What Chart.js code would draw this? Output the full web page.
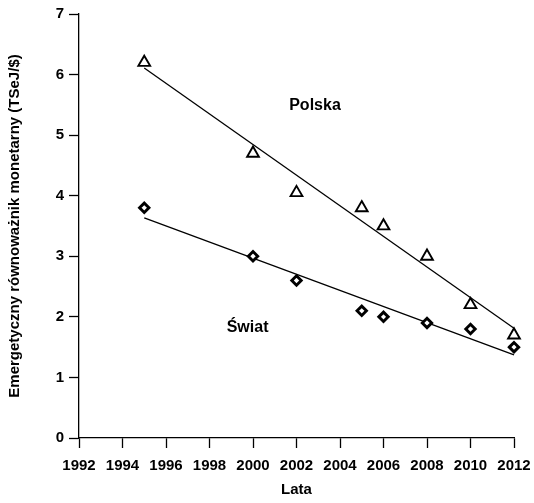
<!DOCTYPE html>
<html>
<head>
<meta charset="utf-8">
<script src="https://cdn.jsdelivr.net/npm/chart.js@4/dist/chart.umd.min.js"></script>
<style>
  html, body { margin: 0; padding: 0; background: #fff; }
  #wrap { width: 534px; height: 503px; }
</style>
</head>
<body>
<div id="wrap"><canvas id="chart"></canvas></div>
<script>
// Years and values
const years = [1995, 2000, 2002, 2005, 2006, 2008, 2010, 2012];
const polskaValues = [6.2, 4.7, 4.05, 3.8, 3.5, 3.0, 2.2, 1.7];
const swiatValues = [3.8, 3.0, 2.6, 2.1, 2.0, 1.9, 1.8, 1.5];
const xTicks = [1992, 1994, 1996, 1998, 2000, 2002, 2004, 2006, 2008, 2010, 2012];
const yTicks = [0, 1, 2, 3, 4, 5, 6, 7];

// Labels written next to the series
const seriesLabels = [
  { text: "Polska", x: 2002.85, y: 5.48 },
  { text: "Świat", x: 1999.75, y: 1.82 },
];

const FONT = "'Liberation Sans', Arial, sans-serif";

// least squares line through the points, returned as two end points
function trendLine(xs, ys) {
  const n = xs.length;
  const mx = xs.reduce((a, b) => a + b, 0) / n;
  const my = ys.reduce((a, b) => a + b, 0) / n;
  let sxy = 0, sxx = 0;
  for (let i = 0; i < n; i++) {
    sxy += (xs[i] - mx) * (ys[i] - my);
    sxx += (xs[i] - mx) * (xs[i] - mx);
  }
  const slope = sxy / sxx;
  const first = xs[0], last = xs[n - 1];
  return [
    { x: first, y: my + slope * (first - mx) },
    { x: last, y: my + slope * (last - mx) },
  ];
}

const toPoints = (vals) => vals.map((v, i) => ({ x: years[i], y: v }));

// draws the series names inside the plot
const labelPlugin = {
  id: "seriesLabels",
  afterDatasetsDraw(chart) {
    const ctx = chart.ctx;
    const xs = chart.scales.x, ys = chart.scales.y;
    ctx.save();
    ctx.font = "bold 16px " + FONT;
    ctx.fillStyle = "#000";
    ctx.textAlign = "center";
    ctx.textBaseline = "middle";
    for (const l of seriesLabels) {
      ctx.fillText(l.text, xs.getPixelForValue(l.x), ys.getPixelForValue(l.y));
    }
    ctx.restore();
  },
};

new Chart(document.getElementById("chart"), {
  type: "scatter",
  data: {
    datasets: [
      {
        label: "Polska",
        data: toPoints(polskaValues),
        pointStyle: "triangle",
        pointRadius: 6.8,
        pointBorderWidth: 1.9,
        borderColor: "#000",
        backgroundColor: "#fff",
        showLine: false,
      },
      {
        label: "Świat",
        data: toPoints(swiatValues),
        pointStyle: "rectRot",
        pointRadius: 4.7,
        pointBorderWidth: 2.9,
        borderColor: "#000",
        backgroundColor: "#fff",
        showLine: false,
      },
      {
        label: "Polska trend",
        data: trendLine(years, polskaValues),
        showLine: true,
        borderColor: "#000",
        borderWidth: 1.3,
        pointRadius: 0,
      },
      {
        label: "Świat trend",
        data: trendLine(years, swiatValues),
        showLine: true,
        borderColor: "#000",
        borderWidth: 1.3,
        pointRadius: 0,
      },
    ],
  },
  options: {
    responsive: true,
    maintainAspectRatio: false,
    animation: false,
    clip: false,
    layout: { padding: { top: 10, right: 20, left: 0, bottom: 0 } },
    plugins: {
      legend: { display: false },
      tooltip: { enabled: false },
    },
    scales: {
      x: {
        type: "linear",
        min: 1992,
        max: 2012,
        afterBuildTicks: (s) => { s.ticks = xTicks.map((v) => ({ value: v })); },
        afterFit: (s) => {
          s.height = 65;
          s.paddingRight = 0;
          s.paddingLeft = 0;
        },
        border: { color: "#000", width: 1.3 },
        grid: { drawOnChartArea: false, tickLength: 10, tickColor: "#000", tickWidth: 1.3 },
        ticks: {
          color: "#000",
          padding: 9,
          maxRotation: 0,
          font: { family: FONT, size: 15, weight: "bold" },
          callback: (v) => String(v),
        },
        title: {
          display: true,
          text: "Lata",
          color: "#000",
          padding: { top: 4, bottom: 4 },
          font: { family: FONT, size: 15, weight: "bold" },
        },
      },
      y: {
        min: 0,
        max: 7,
        afterBuildTicks: (s) => { s.ticks = yTicks.map((v) => ({ value: v })); },
        afterFit: (s) => { s.width = 79; },
        border: { color: "#000", width: 1.3 },
        grid: { drawOnChartArea: false, tickLength: 10, tickColor: "#000", tickWidth: 1.3 },
        ticks: {
          color: "#000",
          padding: 5,
          font: { family: FONT, size: 15, weight: "bold" },
        },
        title: {
          display: true,
          text: "Emergetyczny równoważnik monetarny (TSeJ/$)",
          color: "#000",
          padding: { top: 6, bottom: 2 },
          font: { family: FONT, size: 15, weight: "bold" },
        },
      },
    },
  },
  plugins: [labelPlugin],
});
</script>
</body>
</html>
